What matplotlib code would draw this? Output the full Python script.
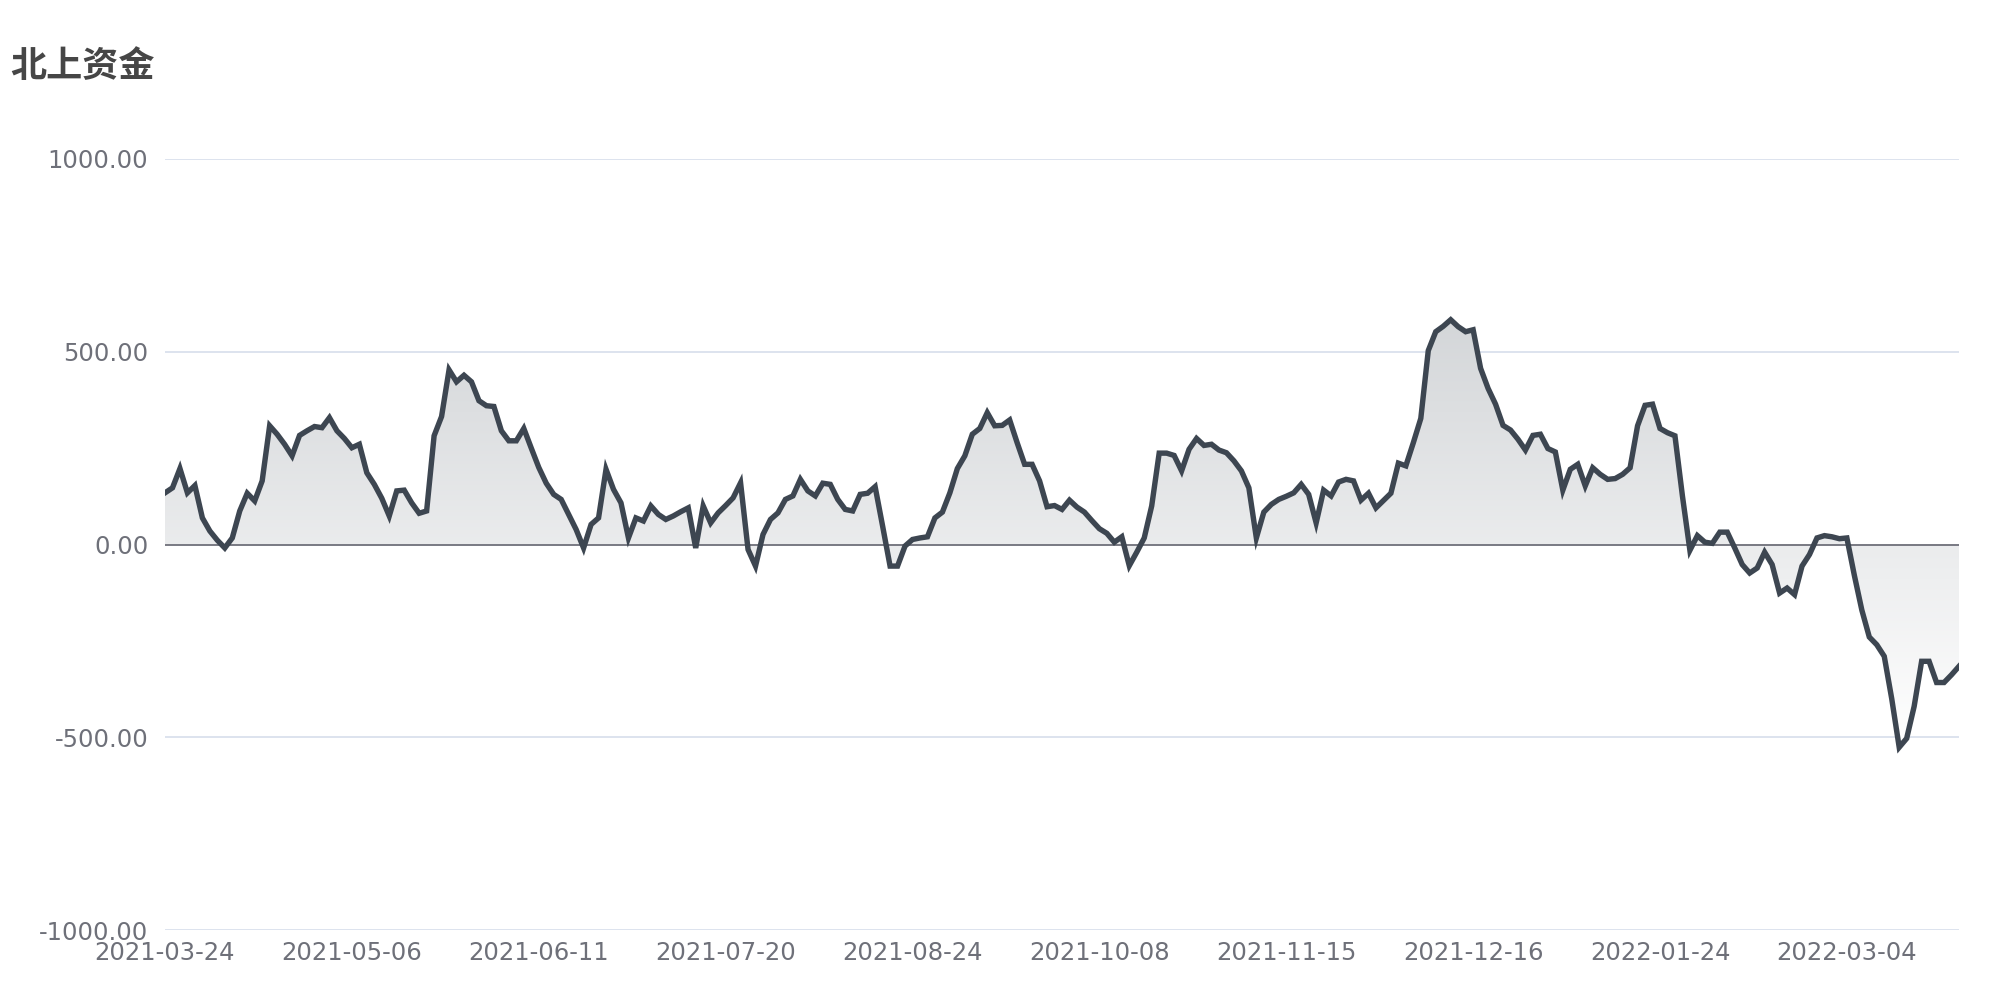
import matplotlib
matplotlib.use("Agg")
import matplotlib.pyplot as plt
import numpy as np

plt.rcParams['font.family'] = ['DejaVu Sans', 'Noto Sans CJK SC']

# northbound net inflow series (one point per trading day)
values = [
    134, 147, 197, 134, 153, 69, 35, 11, -9, 17,
    87, 133, 113, 165, 308, 286, 260, 230, 283, 295,
    306, 303, 329, 295, 275, 251, 260, 186, 156, 120,
    74, 139, 141, 108, 81, 87, 282, 332, 453, 422,
    439, 422, 373, 360, 358, 295, 269, 269, 301, 250,
    200, 159, 130, 117, 78, 39, -9, 52, 69, 195,
    143, 108, 17, 69, 61, 100, 78, 65, 74, 85,
    95, -9, 100, 56, 82, 101, 121, 160, -13, -56,
    26, 65, 82, 117, 126, 169, 139, 126, 159, 156,
    117, 91, 87, 130, 133, 150, 48, -56, -56, -4,
    13, 17, 20, 69, 84, 134, 197, 230, 286, 301,
    342, 308, 309, 323, 264, 208, 208, 165, 98, 101,
    91, 115, 97, 84, 62, 41, 29, 6, 20, -55,
    -20, 17, 100, 237, 237, 231, 191, 247, 275, 257,
    260, 245, 238, 217, 191, 147, 17, 84, 104, 117,
    125, 134, 156, 130, 56, 141, 126, 162, 169, 165,
    115, 133, 95, 114, 133, 211, 204, 264, 327, 503,
    552, 566, 583, 565, 552, 557, 457, 405, 364, 309,
    297, 273, 245, 283, 286, 249, 240, 141, 195, 208,
    152, 199, 182, 169, 171, 182, 199, 308, 361, 364,
    301, 290, 282, 126, -15, 23, 6, 3, 32, 32,
    -9, -52, -74, -61, -20, -52, -126, -113, -130, -56,
    -26, 17, 23, 20, 15, 17, -80, -170, -240, -260,
    -290, -400, -526, -503, -420, -303, -303, -358, -358, -338,
    -316,
]
tick_labels = ['2021-03-24', '2021-05-06', '2021-06-11', '2021-07-20', '2021-08-24',
               '2021-10-08', '2021-11-15', '2021-12-16', '2022-01-24', '2022-03-04']
label_step = 25
y_ticks = [-1000, -500, 0, 500, 1000]
title = '北上资金'

x = np.arange(len(values))
y = np.array(values, dtype=float)

fig = plt.figure(figsize=(20, 10), dpi=100)
ax = fig.add_axes([0.0825, 0.07, 0.897, 0.771])
ax.set_xlim(0, len(values) - 1)
ax.set_ylim(-1000, 1000)

# grid lines
for v in y_ticks:
    if v != 0:
        ax.axhline(v, color='#dde3ee', lw=1.4, zorder=0)
ax.axhline(0, color='#6e7079', lw=1.3, zorder=3)

# gradient area between line and zero
area = ax.fill_between(x, y, 0, facecolor='none', edgecolor='none')
grad = np.linspace(0, 1, 256).reshape(-1, 1)
top = np.array([0.83, 0.84, 0.85])
bottom = np.array([1.0, 1.0, 1.0])
img = top + (bottom - top) * grad
img = img.reshape(256, 1, 3)
im = ax.imshow(img, extent=[0, len(values) - 1, y.min(), y.max()],
               aspect='auto', origin='upper', zorder=1)
path = area.get_paths()[0]
im.set_clip_path(path, transform=ax.transData)

ax.plot(x, y, color='#3d4651', lw=3.9, solid_joinstyle='miter', zorder=4)

ax.set_yticks(y_ticks)
ax.set_yticklabels([f'{v:.2f}' for v in y_ticks])
ax.set_xticks(np.arange(0, len(tick_labels) * label_step, label_step))
ax.set_xticklabels(tick_labels)
ax.tick_params(axis='both', length=0, labelsize=17.5, labelcolor='#6e7079')
ax.tick_params(axis='y', pad=12)
ax.tick_params(axis='x', pad=8)
for s in ax.spines.values():
    s.set_visible(False)

fig.text(0.005, 0.934, title, fontsize=26, fontweight='bold', color='#464646',
         family=['Noto Sans CJK SC', 'DejaVu Sans'], va='center', ha='left')

fig.savefig('out.png', dpi=100, facecolor='white')
